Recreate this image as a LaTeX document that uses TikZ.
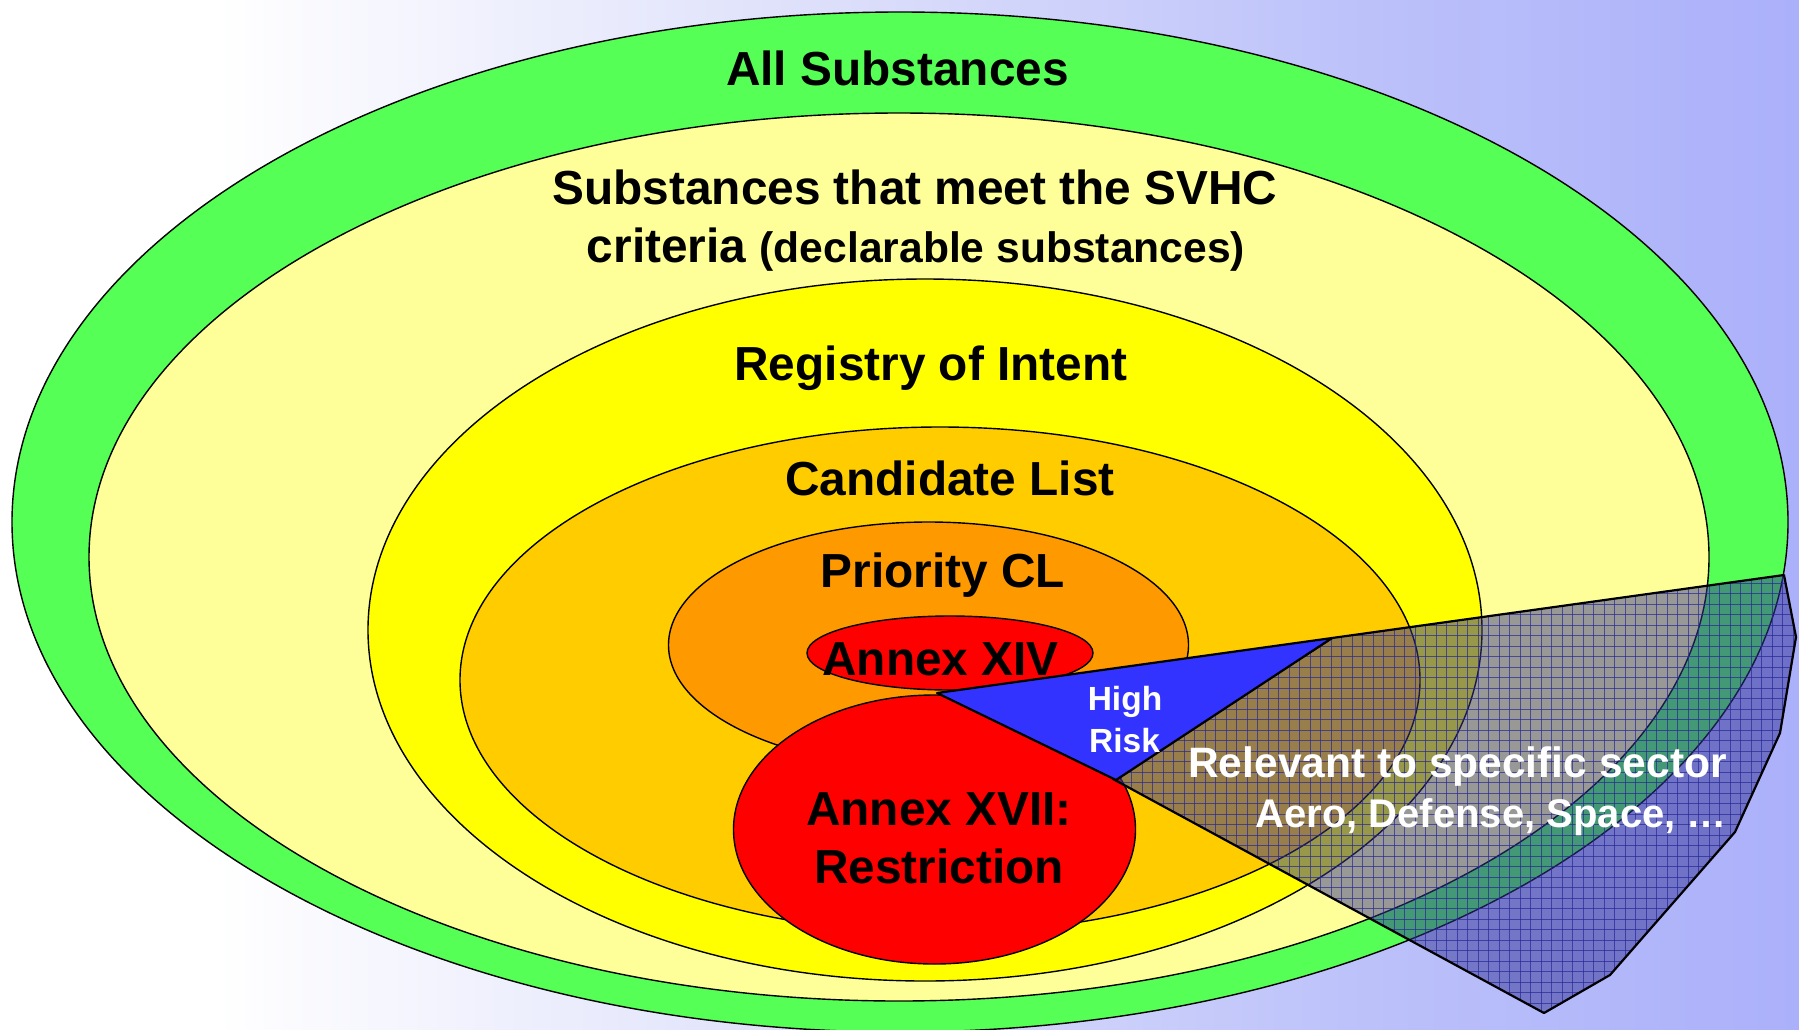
\documentclass[tikz,border=0pt]{standalone}
\usepackage{fontspec}
\setmainfont{Liberation Sans}
\definecolor{cgreen}{RGB}{85,255,85}
\definecolor{clyellow}{RGB}{255,255,153}
\definecolor{cyellow}{RGB}{255,255,0}
\definecolor{ccand}{RGB}{255,204,0}
\definecolor{cprio}{RGB}{255,153,0}
\definecolor{cred}{RGB}{255,0,0}
\definecolor{cblue}{RGB}{51,51,255}
\definecolor{chatch}{RGB}{50,50,150}
\definecolor{cgrid}{RGB}{40,40,150}
\pgfdeclarehorizontalshading{bgshade}{100bp}{rgb(0bp)=(1,1,1); rgb(25bp)=(1,1,1); rgb(31bp)=(1,1,1); rgb(50bp)=(0.85,0.86,0.98); rgb(62.5bp)=(0.74,0.76,0.98); rgb(75bp)=(0.67,0.69,0.98); rgb(100bp)=(0.67,0.69,0.98)}
\begin{document}
\begin{tikzpicture}[x=1pt,y=-1pt,
  ring/.style={draw=black,line width=1.4pt},
  lbl/.style={font=\fontsize{47.8pt}{57pt}\selectfont\bfseries,anchor=base,inner sep=0pt,text=black},
  wlbl/.style={font=\fontsize{33.5pt}{40pt}\selectfont\bfseries,anchor=base,inner sep=0pt,text=white},
  slbl/.style={font=\fontsize{42.5pt}{50pt}\selectfont\bfseries,anchor=base east,inner sep=0pt,text=white},
  edge/.style={draw=black,line width=2.2pt,line join=round}]
\useasboundingbox (0,0) rectangle (1799,1029);
\begin{scope}
\clip (0,0) rectangle (1799,1029);
\shade[shading=bgshade] (0,0) rectangle (1799,1029);
% nested sets
\path[ring,fill=cgreen] (900,522) ellipse [x radius=888pt,y radius=510pt];
\path[ring,fill=clyellow] (899,557) ellipse [x radius=810pt,y radius=444pt];
\path[ring,fill=cyellow] (925,630) ellipse [x radius=557pt,y radius=351pt];
\path[ring,fill=ccand] (940,680) ellipse [x radius=480pt,y radius=253pt];
\path[ring,fill=cprio] (928.5,645) ellipse [x radius=260pt,y radius=123pt];
\path[ring,fill=cred] (950,653) ellipse [x radius=143pt,y radius=37pt];
\path[ring,fill=cred] (934.5,829.5) ellipse [x radius=201pt,y radius=134.5pt];
% sector region
\coordinate (A) at (937,693);
\coordinate (T1) at (1332,638);
\coordinate (T2) at (1116,780);
\coordinate (Q0) at (1113,779);
\coordinate (P1) at (1784,575);
\coordinate (P2) at (1796,637);
\coordinate (P3) at (1780,733);
\coordinate (P4) at (1735,832);
\coordinate (P5) at (1610,975);
\coordinate (P6) at (1544,1013);
\fill[chatch,fill opacity=0.5] (Q0) -- (T1) -- (P1) -- (P2) -- (P3) -- (P4) -- (P5) -- (P6) -- cycle;
\begin{scope}
\clip (Q0) -- (T1) -- (P1) -- (P2) -- (P3) -- (P4) -- (P5) -- (P6) -- cycle;
\foreach \gx in {0,...,68} {\draw[cgrid,line width=0.9pt,opacity=0.7] ({1100+10.5*\gx},560) -- ({1100+10.5*\gx},1029);}
\foreach \gy in {0,...,45} {\draw[cgrid,line width=0.9pt,opacity=0.7] (1100,{562+10.5*\gy}) -- (1799,{562+10.5*\gy});}
\end{scope}
\path[edge] (Q0) -- (T1) -- (P1) -- (P2) -- (P3) -- (P4) -- (P5) -- (P6) -- cycle;
% high risk triangle
\path[edge,fill=cblue] (A) -- (T1) -- (T2) -- cycle;
\end{scope}
% labels
\node[lbl] (all) at (897.5,85) {All Substances};
\node[lbl] (svhc1) at (915,204) {Substances that meet the SVHC};
\node[lbl] (svhc2) at (916,262) {criteria {\fontsize{42.6pt}{50pt}\selectfont (declarable substances)}};
\node[lbl] (roi) at (931,380) {Registry of Intent};
\node[lbl] (cl) at (950,495) {Candidate List};
\node[lbl] (pcl) at (943,587) {Priority CL};
\node[lbl] (a14) at (940.5,675) {Annex XIV};
\node[lbl] (a17) at (939,825) {Annex XVII:};
\node[lbl] (res) at (939,883) {Restriction};
\node[wlbl] (high) at (1125,710) {High};
\node[wlbl] (risk) at (1124.5,752) {Risk};
\node[slbl] (rel) at (1727,777) {Relevant to specific sector};
\node[slbl,font=\fontsize{40pt}{48pt}\selectfont\bfseries] (aero) at (1727,827) {Aero, Defense, Space, …};
\end{tikzpicture}
\end{document}
